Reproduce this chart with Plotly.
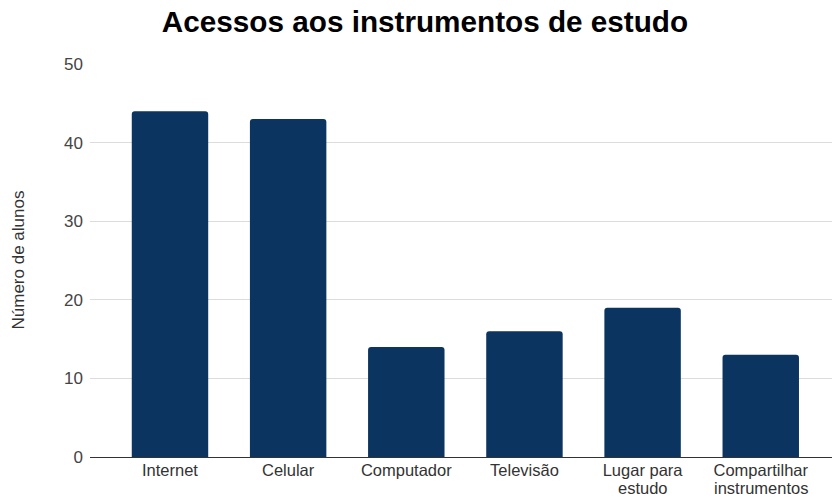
import plotly.graph_objects as go

categories = ["Internet", "Celular", "Computador", "Televisão", "Lugar para estudo", "Compartilhar instrumentos"]
label_line1 = ["Internet", "Celular", "Computador", "Televisão", "Lugar para", "Compartilhar"]
label_line2 = ["", "", "", "", "estudo", "instrumentos"]
values = [44, 43, 14, 16, 19, 13]
y_ticks = [0, 10, 20, 30, 40, 50]

FONT = "Liberation Sans, Arial, sans-serif"

fig = go.Figure(go.Bar(x=categories, y=values, marker_color="#0b3560", marker_line_width=0))

fig.update_layout(
    width=832, height=498,
    margin=dict(l=90, r=0, t=64, b=41),
    paper_bgcolor="white", plot_bgcolor="white",
    bargap=0.353, barcornerradius=3,
    font=dict(family=FONT, size=17, color="#444444"),
    title=dict(text="<b>Acessos aos instrumentos de estudo</b>", x=425 / 832, xanchor="center",
               y=1 - 22 / 498, yanchor="middle", font=dict(size=29.7, color="#000000")),
    showlegend=False,
)
fig.update_yaxes(range=[0, 50], tickvals=y_ticks, showgrid=True, gridcolor="#dcdcdc", gridwidth=1,
                 zeroline=True, zerolinecolor="#333333", zerolinewidth=1, ticks="", ticklabelstandoff=6,
                 automargin=False, tickfont=dict(size=17, color="#444444"))
fig.update_xaxes(range=[-0.677, 5.603], tickvals=categories, ticktext=label_line1, showgrid=False,
                 ticks="", automargin=False, ticklabelstandoff=1,
                 tickfont=dict(size=16.5, color="#333333"), showline=False)
for cat, l2 in zip(categories, label_line2):
    if l2:
        fig.add_annotation(text=l2, x=cat, xref="x", y=0, yref="paper", yanchor="bottom",
                           yshift=-41, showarrow=False, borderpad=0,
                           font=dict(size=16.5, color="#333333"))
fig.add_annotation(text="Número de alunos", textangle=-90, x=(18 - 90) / 742, xref="paper",
                   xanchor="center", y=0.5, yref="paper", showarrow=False,
                   font=dict(size=17, color="#333333"))

fig.write_html("out.html", config={"displayModeBar": False},
               post_script="document.body.style.margin='0';document.body.style.overflow='hidden';")
